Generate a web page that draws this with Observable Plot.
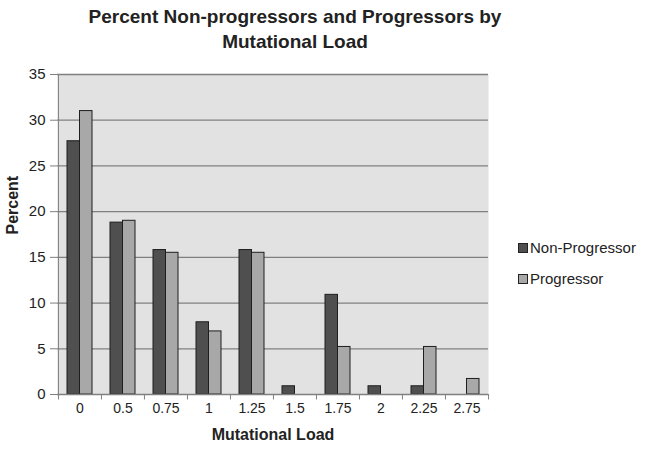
<!DOCTYPE html>
<html>
<head>
<meta charset="utf-8">
<script src="https://cdn.jsdelivr.net/npm/d3@7"></script>
<script src="https://cdn.jsdelivr.net/npm/@observablehq/plot@0.6"></script>
<style>
  body { margin: 0; background: #fff; font-family: "Liberation Sans", Arial, sans-serif; }
  #wrap { position: relative; width: 647px; height: 450px; overflow: hidden; }
  #title { position: absolute; left: 50px; width: 490px; top: 4px; text-align: center;
           font-weight: bold; font-size: 19px; line-height: 25px; color: #222; }
  #chart { position: absolute; left: 0; top: 58px; }
  .leg { position: absolute; left: 518px; font-size: 15px; color: #222; display: flex; align-items: center; }
  .sw { width: 8px; height: 8px; border: 1px solid #222; margin-right: 2px; }
</style>
</head>
<body>
<div id="wrap">
  <div id="title">Percent Non-progressors and Progressors by<br>Mutational Load</div>
  <div id="chart"></div>
  <div class="leg" style="top:239px"><div class="sw" style="background:#4f4f4f"></div>Non-Progressor</div>
  <div class="leg" style="top:270px"><div class="sw" style="background:#a8a8a8"></div>Progressor</div>
</div>
<script>
const categories = ["0", "0.5", "0.75", "1", "1.25", "1.5", "1.75", "2", "2.25", "2.75"];
const nonProgressor = [27.7, 18.8, 15.8, 7.9, 15.8, 0.9, 10.9, 0.9, 0.9, 0];
const progressor = [31.0, 19.0, 15.5, 6.9, 15.5, 0, 5.2, 0, 5.2, 1.7];
const yTicks = [0, 5, 10, 15, 20, 25, 30, 35];

const npData = categories.map((c, i) => ({cat: c, v: nonProgressor[i]}));
const pData = categories.map((c, i) => ({cat: c, v: progressor[i]}));

const width = 647, height = 392;
const mL = 57, mR = 159, mT = 16, mB = 56;
const step = (width - mL - mR) / categories.length;
const bw = 25;
const pad = 1 - bw / step;

const chart = Plot.plot({
  width, height,
  marginLeft: mL, marginRight: mR, marginTop: mT, marginBottom: mB,
  style: {fontFamily: "Liberation Sans, Arial, sans-serif", fontSize: "14px", color: "#222", background: "transparent"},
  x: {domain: categories, paddingInner: pad, paddingOuter: pad / 2, label: null},
  y: {domain: [0, 35], label: null},
  marks: [
    Plot.frame({fill: "#e2e2e2", stroke: null}),
    Plot.ruleY(yTicks.filter(d => d > 0), {stroke: "#808080", strokeWidth: 1.3}),
    Plot.barY(npData, {x: "cat", y: "v", fill: "#4f4f4f", stroke: "#1e1e1e", strokeWidth: 1, insetRight: bw / 2, filter: d => d.v > 0}),
    Plot.barY(pData, {x: "cat", y: "v", fill: "#a8a8a8", stroke: "#1e1e1e", strokeWidth: 1, insetLeft: bw / 2, filter: d => d.v > 0}),
    Plot.ruleY([0], {stroke: "#808080", strokeWidth: 1.3}),
    Plot.ruleX(categories, {x: d => d, dx: -step / 2, y1: 0, y2: -0.6, stroke: "#808080"}),
    Plot.ruleX([categories[categories.length - 1]], {x: d => d, dx: step / 2, y1: 0, y2: -0.6, stroke: "#808080"}),
    Plot.ruleX([categories[0]], {x: d => d, dx: -step / 2, y1: 0, y2: 35, stroke: "#808080"}),
    Plot.axisY({ticks: yTicks, tickSize: 7, tickPadding: 5, stroke: "#808080", fontSize: 15, fill: "#222", label: null}),
    Plot.axisX({tickSize: 0, tickPadding: 9, fontSize: 14, fill: "#222", label: null}),
    Plot.text(["Mutational Load"], {frameAnchor: "bottom", dy: 45, fontWeight: "bold", fontSize: 16, fill: "#222"}),
    Plot.text(["Percent"], {frameAnchor: "left", dx: -45, rotate: -90, fontWeight: "bold", fontSize: 16, fill: "#222"})
  ]
});
document.getElementById("chart").appendChild(chart);
</script>
</body>
</html>
